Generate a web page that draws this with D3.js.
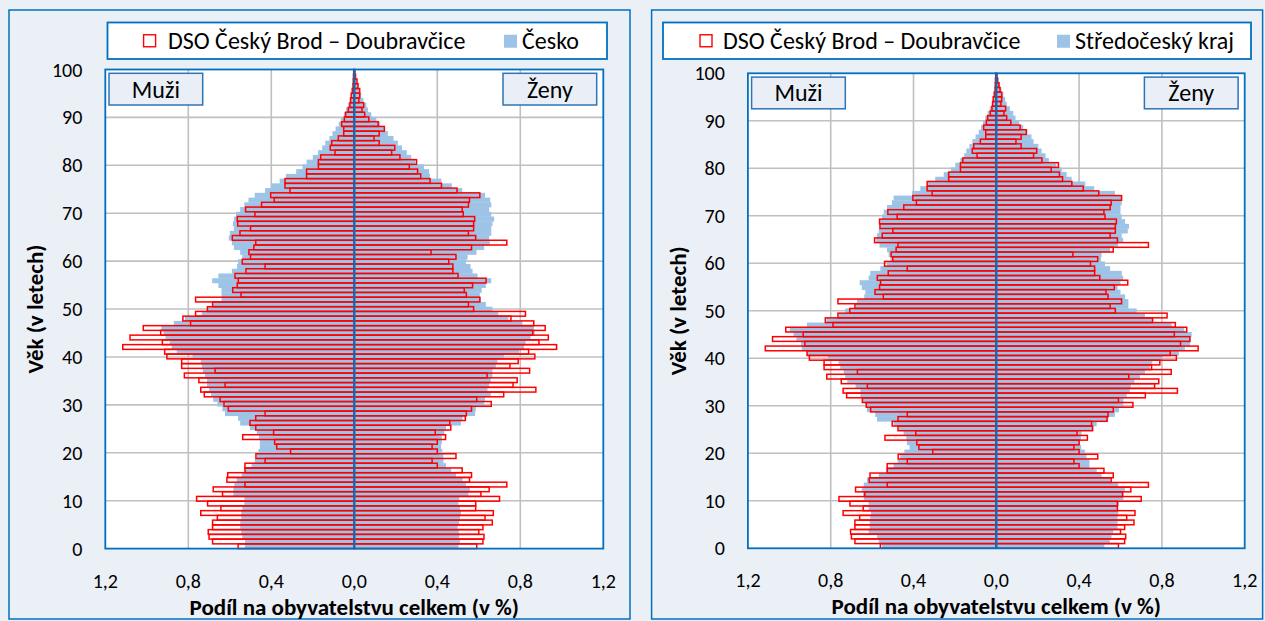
<!DOCTYPE html>
<html><head><meta charset="utf-8">
<script src="https://cdn.jsdelivr.net/npm/d3@7"></script>
<style>
body{margin:0;background:#EBEFF6;}
svg{display:block;font-family:Carlito, Lato, sans-serif;}
</style></head><body>
<svg id="c" width="1265" height="621"></svg>
<script>
// ages 0..100
const ages = d3.range(0, 101);
// DSO Český Brod – Doubravčice (share of total population, %)
const dsoMale = [0.56,0.683,0.70,0.704,0.683,0.683,0.66,0.74,0.643,0.707,0.76,0.635,0.68,0.527,0.614,0.61,0.527,0.527,0.43,0.474,
0.307,0.374,0.384,0.538,0.389,0.475,0.503,0.475,0.43,0.607,0.628,0.647,0.723,0.74,0.623,0.749,0.819,0.671,0.832,0.832,
0.903,0.914,1.116,0.925,1.081,0.933,1.017,0.789,0.826,0.765,0.708,0.683,0.765,0.546,0.586,0.564,0.559,0.575,0.522,0.43,
0.54,0.50,0.508,0.484,0.475,0.588,0.551,0.50,0.562,0.564,0.479,0.524,0.447,0.386,0.403,0.31,0.334,0.334,0.23,0.23,
0.173,0.173,0.162,0.093,0.116,0.109,0.077,0.051,0.051,0.061,0.048,0.042,0.029,0.021,0.018,0.015,0.01,0.006,0.005,0.004,0.003];
const dsoFemale = [0.59,0.62,0.625,0.60,0.62,0.665,0.63,0.67,0.585,0.585,0.70,0.61,0.65,0.735,0.555,0.565,0.52,0.40,0.375,0.49,
0.40,0.375,0.40,0.44,0.39,0.465,0.46,0.535,0.54,0.565,0.66,0.59,0.72,0.875,0.765,0.785,0.64,0.845,0.75,0.79,
0.87,0.84,0.975,0.89,0.935,0.86,0.92,0.865,0.755,0.825,0.575,0.55,0.605,0.54,0.53,0.57,0.635,0.50,0.475,0.475,
0.455,0.49,0.37,0.565,0.735,0.585,0.55,0.575,0.575,0.58,0.525,0.52,0.55,0.555,0.605,0.495,0.42,0.365,0.32,0.305,
0.265,0.30,0.22,0.18,0.195,0.12,0.095,0.12,0.145,0.115,0.07,0.05,0.037,0.045,0.022,0.026,0.026,0.018,0.013,0.006,0.003];
// Česko
const czMale = [0.527,0.527,0.54,0.545,0.55,0.55,0.545,0.545,0.54,0.53,0.53,0.583,0.583,0.578,0.567,0.543,0.527,0.495,0.48,0.47,
0.462,0.455,0.455,0.46,0.47,0.503,0.55,0.56,0.623,0.636,0.66,0.68,0.69,0.70,0.71,0.71,0.72,0.73,0.735,0.74,
0.78,0.856,0.88,0.89,0.91,0.92,0.93,0.87,0.816,0.735,0.71,0.68,0.64,0.64,0.64,0.655,0.685,0.655,0.59,0.565,
0.56,0.54,0.55,0.58,0.59,0.605,0.60,0.58,0.585,0.58,0.57,0.55,0.53,0.51,0.48,0.43,0.40,0.36,0.33,0.28,
0.25,0.23,0.20,0.175,0.155,0.14,0.12,0.105,0.09,0.075,0.065,0.05,0.04,0.03,0.022,0.016,0.011,0.008,0.005,0.003,0.002];
const czFemale = [0.502,0.51,0.506,0.504,0.498,0.505,0.51,0.514,0.509,0.502,0.506,0.55,0.557,0.538,0.522,0.49,0.467,0.442,0.43,0.429,
0.424,0.418,0.422,0.422,0.434,0.442,0.514,0.522,0.582,0.586,0.626,0.63,0.658,0.642,0.65,0.658,0.666,0.666,0.682,0.69,
0.722,0.794,0.818,0.826,0.85,0.87,0.866,0.81,0.742,0.694,0.666,0.634,0.61,0.605,0.614,0.634,0.66,0.594,0.57,0.56,
0.538,0.546,0.589,0.626,0.653,0.65,0.66,0.66,0.666,0.674,0.66,0.65,0.66,0.655,0.63,0.52,0.47,0.42,0.365,0.36,
0.336,0.294,0.274,0.253,0.23,0.21,0.189,0.162,0.146,0.125,0.106,0.082,0.066,0.058,0.044,0.034,0.025,0.018,0.012,0.007,0.004];
// Středočeský kraj
const scMale = [0.552,0.568,0.576,0.617,0.612,0.612,0.609,0.605,0.617,0.617,0.64,0.644,0.65,0.64,0.625,0.568,0.531,0.496,0.477,0.464,
0.444,0.419,0.432,0.435,0.448,0.472,0.496,0.576,0.585,0.625,0.633,0.644,0.657,0.657,0.68,0.72,0.73,0.737,0.754,0.762,
0.813,0.915,0.94,0.944,0.966,0.98,0.998,0.915,0.82,0.76,0.73,0.68,0.673,0.638,0.633,0.65,0.66,0.617,0.609,0.56,
0.528,0.512,0.52,0.528,0.564,0.58,0.576,0.568,0.56,0.56,0.552,0.544,0.528,0.504,0.496,0.407,0.367,0.335,0.295,0.254,
0.219,0.198,0.174,0.155,0.145,0.13,0.116,0.10,0.085,0.074,0.064,0.053,0.042,0.032,0.02,0.013,0.01,0.007,0.005,0.003,0.002];
const scFemale = [0.522,0.549,0.557,0.565,0.586,0.586,0.586,0.59,0.586,0.593,0.614,0.614,0.622,0.589,0.55,0.509,0.485,0.45,0.45,0.436,
0.428,0.41,0.404,0.409,0.412,0.469,0.485,0.541,0.573,0.593,0.614,0.614,0.63,0.645,0.65,0.667,0.694,0.718,0.742,0.754,
0.80,0.882,0.911,0.936,0.94,0.944,0.908,0.847,0.754,0.718,0.678,0.638,0.638,0.622,0.60,0.586,0.60,0.613,0.606,0.55,
0.525,0.506,0.509,0.55,0.589,0.613,0.606,0.635,0.641,0.622,0.606,0.60,0.60,0.606,0.609,0.573,0.473,0.43,0.364,0.34,
0.316,0.29,0.254,0.238,0.219,0.203,0.18,0.17,0.15,0.13,0.11,0.093,0.082,0.066,0.05,0.042,0.034,0.025,0.018,0.012,0.006];

const xTicks = [-1.2, -0.8, -0.4, 0, 0.4, 0.8, 1.2];
const yTicks = d3.range(0, 101, 10);
const seriesName = "DSO Český Brod – Doubravčice";
const compNames = ["Česko", "Středočeský kraj"];
const sideLabels = ["Muži", "Ženy"];
const xTitle = "Podíl na obyvatelstvu celkem (v %)";
const yTitle = "Věk (v letech)";

const BLUE = "#0070C0", BAR = "#9DC3E6", RED = "#FF0000", GRID = "#C0C0C0", BOXFILL = "#E9EEF7";

const svg = d3.select("#c");
svg.append("rect").attr("width",1265).attr("height",621).attr("fill","#EBEFF6");

const panels = [
  {frame:[9,10,621,609], plot:[105.3,603.3,69.5,548.6], legend:[107.5,22.5,499.5,36.5],
   comp:compNames[0], cm:czMale, cf:czFemale, mk1:143.6, tx1:168, mk2:504, tx2:522},
  {frame:[651.6,10,611,609], plot:[747.9,1244.7,73.3,548.3], legend:[663,22.5,588,36.5],
   comp:compNames[1], cm:scMale, cf:scFemale, mk1:700, tx1:723, mk2:1057, tx2:1075}
];

const fmt = v => d3.format(".1f")(Math.abs(v)).replace(".", ",");

panels.forEach(p => {
  const g = svg.append("g");
  const [fx,fy,fw,fh] = p.frame;
  g.append("rect").attr("x",fx).attr("y",fy).attr("width",fw).attr("height",fh)
    .attr("fill","#EBEFF6").attr("stroke",BLUE).attr("stroke-width",1.5);
  const [x0,x1,top,bot] = p.plot;
  const x = d3.scaleLinear().domain([-1.2,1.2]).range([x0,x1]);
  const yv = d3.scaleLinear().domain([0,100]).range([bot,top]);
  const yb = d3.scaleBand().domain(ages).range([bot,top]).padding(0);

  g.append("rect").attr("x",x0).attr("y",top).attr("width",x1-x0).attr("height",bot-top).attr("fill","#fff");
  // gridlines
  g.append("g").selectAll("line").data(xTicks.filter(t=>Math.abs(t)<1.2 && t!==0)).join("line")
    .attr("x1",d=>x(d)).attr("x2",d=>x(d)).attr("y1",top).attr("y2",bot)
    .attr("stroke",GRID).attr("stroke-width",1.6);
  g.append("g").selectAll("line").data(yTicks.filter(t=>t>0&&t<100)).join("line")
    .attr("x1",x0).attr("x2",x1).attr("y1",d=>yv(d)).attr("y2",d=>yv(d))
    .attr("stroke",GRID).attr("stroke-width",1.6);

  // comparison bars (filled)
  const bh = yb.bandwidth();
  g.append("g").selectAll("rect").data(ages).join("rect")
    .attr("x",a=>x(-p.cm[a])).attr("width",a=>x(0)-x(-p.cm[a]))
    .attr("y",a=>yb(a)).attr("height",bh+0.3).attr("fill",BAR);
  g.append("g").selectAll("rect").data(ages).join("rect")
    .attr("x",x(0)).attr("width",a=>x(p.cf[a])-x(0))
    .attr("y",a=>yb(a)).attr("height",bh+0.3).attr("fill",BAR);
  // DSO bars (outlined)
  g.append("g").selectAll("rect").data(ages).join("rect")
    .attr("x",a=>x(-dsoMale[a])).attr("width",a=>x(0)-x(-dsoMale[a]))
    .attr("y",a=>yb(a)).attr("height",bh).attr("fill","none").attr("stroke",RED).attr("stroke-width",1.5);
  g.append("g").selectAll("rect").data(ages).join("rect")
    .attr("x",x(0)).attr("width",a=>x(dsoFemale[a])-x(0))
    .attr("y",a=>yb(a)).attr("height",bh).attr("fill","none").attr("stroke",RED).attr("stroke-width",1.5);

  // centre line
  g.append("line").attr("x1",x(0)).attr("x2",x(0)).attr("y1",top).attr("y2",bot)
    .attr("stroke",BLUE).attr("stroke-width",2.2);
  // plot border
  g.append("rect").attr("x",x0).attr("y",top).attr("width",x1-x0).attr("height",bot-top)
    .attr("fill","none").attr("stroke",BLUE).attr("stroke-width",1.8);

  // axes labels
  g.append("g").selectAll("text").data(yTicks).join("text")
    .attr("x",x0-23).attr("y",d=>yv(d)).attr("dy","0.35em").attr("text-anchor","end")
    .attr("font-size",20).attr("fill","#000").text(d=>d);
  g.append("g").selectAll("text").data(xTicks).join("text")
    .attr("x",d=>x(d)).attr("y",bot+39).attr("text-anchor","middle")
    .attr("font-size",20).attr("fill","#000").text(fmt);
  g.append("text").attr("x",(x0+x1)/2).attr("y",bot+66).attr("text-anchor","middle")
    .attr("font-size",23).attr("font-weight","bold").text(xTitle);
  g.append("text").attr("transform",`translate(${x0-62},${(top+bot)/2}) rotate(-90)`)
    .attr("text-anchor","middle").attr("font-size",23).attr("font-weight","bold").text(yTitle);

  // side boxes
  const bw = 93.7, bhh = 31.7;
  [[x0+3.7, sideLabels[0]],[x1-100.3, sideLabels[1]]].forEach(([bx,t])=>{
    g.append("rect").attr("x",bx).attr("y",top+3.8).attr("width",bw).attr("height",bhh)
      .attr("fill",BOXFILL).attr("stroke","#2E75B6").attr("stroke-width",1.5);
    g.append("text").attr("x",bx+bw/2).attr("y",top+3.8+bhh/2).attr("dy","0.35em")
      .attr("text-anchor","middle").attr("font-size",24).text(t);
  });

  // legend
  const [lx,ly,lw,lh] = p.legend;
  g.append("rect").attr("x",lx).attr("y",ly).attr("width",lw).attr("height",lh)
    .attr("fill","#fff").attr("stroke",BLUE).attr("stroke-width",1.8);
  const cy = ly+lh/2;
  g.append("rect").attr("x",p.mk1).attr("y",cy-6).attr("width",12).attr("height",12)
    .attr("fill","#fff").attr("stroke",RED).attr("stroke-width",1.4);
  g.append("text").attr("x",p.tx1).attr("y",cy).attr("dy","0.35em").attr("font-size",24).text(seriesName);
  g.append("rect").attr("x",p.mk2).attr("y",cy-6).attr("width",13).attr("height",13).attr("fill",BAR);
  g.append("text").attr("x",p.tx2).attr("y",cy).attr("dy","0.35em").attr("font-size",24).text(p.comp);
});
</script>
</body></html>
